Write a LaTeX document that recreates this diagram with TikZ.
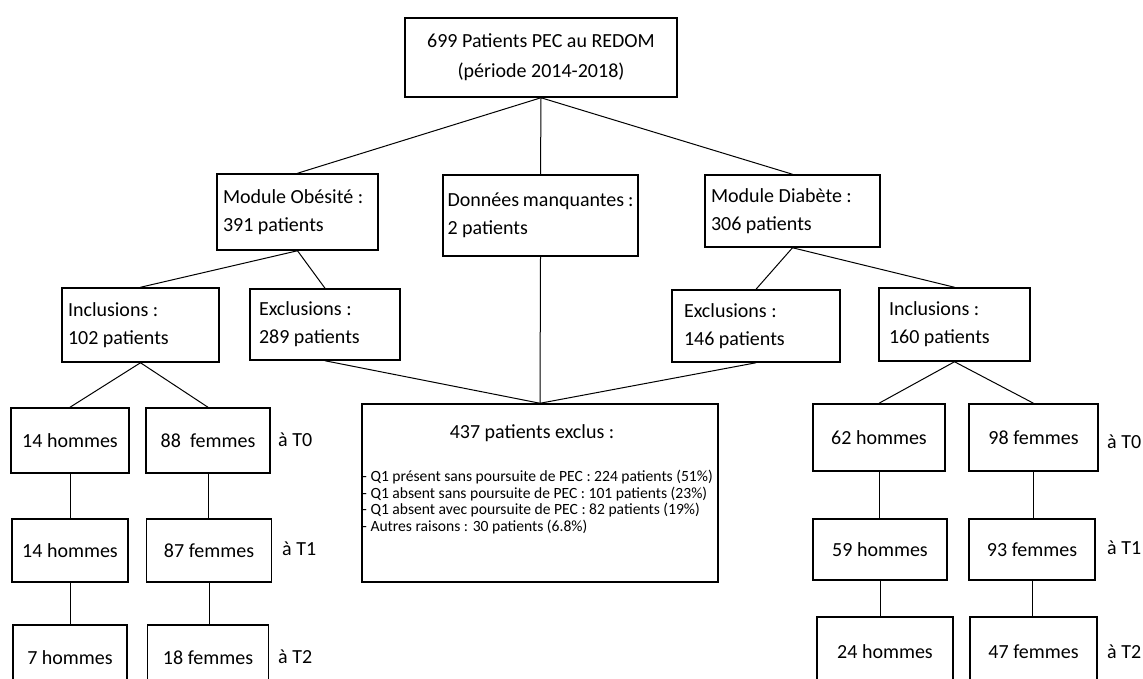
\documentclass[tikz,border=0pt]{standalone}
\usepackage{fontspec}
\setmainfont{Carlito}
\usepackage{tikz}

\tikzset{
  box/.style={draw, line width=1.5pt, inner xsep=6pt, inner ysep=0pt, align=flush left, font=\fontsize{20}{28}\selectfont},
  sbox/.style={draw, line width=1.5pt, inner sep=0pt, align=center, font=\fontsize{20}{24}\selectfont},
  link/.style={line width=1pt},
  tlab/.style={anchor=west, inner sep=0pt, font=\fontsize{20}{24}\selectfont},
}

\begin{document}
\begin{tikzpicture}[x=1pt, y=-1pt]
\useasboundingbox (0,0) rectangle (1143,678);
\clip (0,0) rectangle (1143,678);

\node[box, align=center, minimum width=272pt, minimum height=79pt, font=\fontsize{20}{30}\selectfont] (redom) at (541,57.5) {699 Patients PEC au REDOM\\(période 2014-2018)};

\node[box, minimum height=76pt, text width=149pt] (obesite) at (297.5,212) {Module~Obésité~:\\391~patients};
\node[box, minimum height=81pt, text width=186pt, inner xsep=4.5pt] (manquant) at (540.5,215.5) {Données~manquantes~:\\2~patients};
\node[box, minimum height=72pt, text width=163pt] (diabete) at (792.5,211) {Module~Diabète~:\\306~patients};

\node[box, minimum height=74pt, text width=145pt] (inclO) at (140.5,325) {Inclusions~:\\102~patients};
\node[box, minimum height=71pt, text width=132pt, inner xsep=9pt] (exclO) at (325,324.5) {Exclusions~:\\289~patients};
\node[box, minimum height=72pt, text width=144pt, inner xsep=12pt] (exclD) at (756,326) {Exclusions~:\\146~patients};
\node[box, minimum height=73pt, text width=131pt, inner xsep=10pt] (inclD) at (954.5,324.5) {Inclusions~:\\160~patients};

% patients exclus
\node[box, minimum width=356pt, minimum height=178pt] (exclus) at (540,493) {};
\node[font=\fontsize{20}{24}\selectfont] (exclusT) at (532,433) {437 patients exclus~:};
\node[anchor=west, inner sep=0pt, align=flush left, font=\fontsize{15.6}{16.6}\selectfont] (exclusL) at (362,502)
  {- Q1 présent sans poursuite de PEC~: 224 patients (51\%)\\
   - Q1 absent sans poursuite de PEC~: 101 patients (23\%)\\
   - Q1 absent avec poursuite de PEC~: 82 patients (19\%)\\
   - Autres raisons~: 30 patients (6.8\%)};

% module obesite
\node[sbox, minimum width=118pt, minimum height=65pt] (h0O) at (70,440.5) {14 hommes};
\node[sbox, minimum width=124pt, minimum height=65pt] (f0O) at (208,440.5) {88\ \ femmes};
\node[sbox, minimum width=116pt, minimum height=63pt] (h1O) at (70,550.5) {14 hommes};
\node[sbox, minimum width=125pt, minimum height=63pt] (f1O) at (209,550.5) {87 femmes};
\node[sbox, minimum width=114pt, minimum height=66pt] (h2O) at (70,658) {7 hommes};
\node[sbox, minimum width=121pt, minimum height=66pt] (f2O) at (208,658) {18 femmes};
\node[tlab] (t0O) at (278,440) {à T0};
\node[tlab] (t1O) at (282,549) {à T1};
\node[tlab] (t2O) at (278,657) {à T2};

% module diabete
\node[sbox, minimum width=132pt, minimum height=67pt] (h0D) at (879,437.5) {62 hommes};
\node[sbox, minimum width=129pt, minimum height=67pt] (f0D) at (1033.5,437.5) {98 femmes};
\node[sbox, minimum width=134pt, minimum height=61pt] (h1D) at (880,549.5) {59 hommes};
\node[sbox, minimum width=126pt, minimum height=61pt] (f1D) at (1032,549.5) {93 femmes};
\node[sbox, minimum width=136pt, minimum height=70pt] (h2D) at (885,652) {24 hommes};
\node[sbox, minimum width=127pt, minimum height=70pt] (f2D) at (1033.5,652) {47 femmes};
\node[tlab] (t0D) at (1107,442) {à T0};
\node[tlab] (t1D) at (1107,548) {à T1};
\node[tlab] (t2D) at (1107,652) {à T2};

\draw[link] (redom.south) -- (obesite.north);
\draw[link] (redom.south) -- (manquant.north);
\draw[link] (redom.south) -- (diabete.north);
\draw[link] (obesite.south) -- (inclO.north);
\draw[link] (obesite.south) -- (exclO.north);
\draw[link] (diabete.south) -- (exclD.north);
\draw[link] (diabete.south) -- (inclD.north);
\draw[link] (exclO.south) -- (exclus.north);
\draw[link] (manquant.south) -- (exclus.north);
\draw[link] (exclD.south) -- (exclus.north);
\draw[link] (inclO.south) -- (h0O.north);
\draw[link] (inclO.south) -- (f0O.north);
\draw[link] (inclD.south) -- (h0D.north);
\draw[link] (inclD.south) -- (f0D.north);
\draw[link] (h0O.south) -- (h0O.south |- h1O.north);
\draw[link] (h1O.south) -- (h1O.south |- h2O.north);
\draw[link] (f0O.south) -- (f0O.south |- f1O.north);
\draw[link] (f1O.south) -- (f1O.south |- f2O.north);
\draw[link] (h0D.south) -- (h0D.south |- h1D.north);
\draw[link] (h1D.south) -- (h1D.south |- h2D.north);
\draw[link] (f0D.south) -- (f0D.south |- f1D.north);
\draw[link] (f1D.south) -- (f1D.south |- f2D.north);

\end{tikzpicture}
\end{document}
